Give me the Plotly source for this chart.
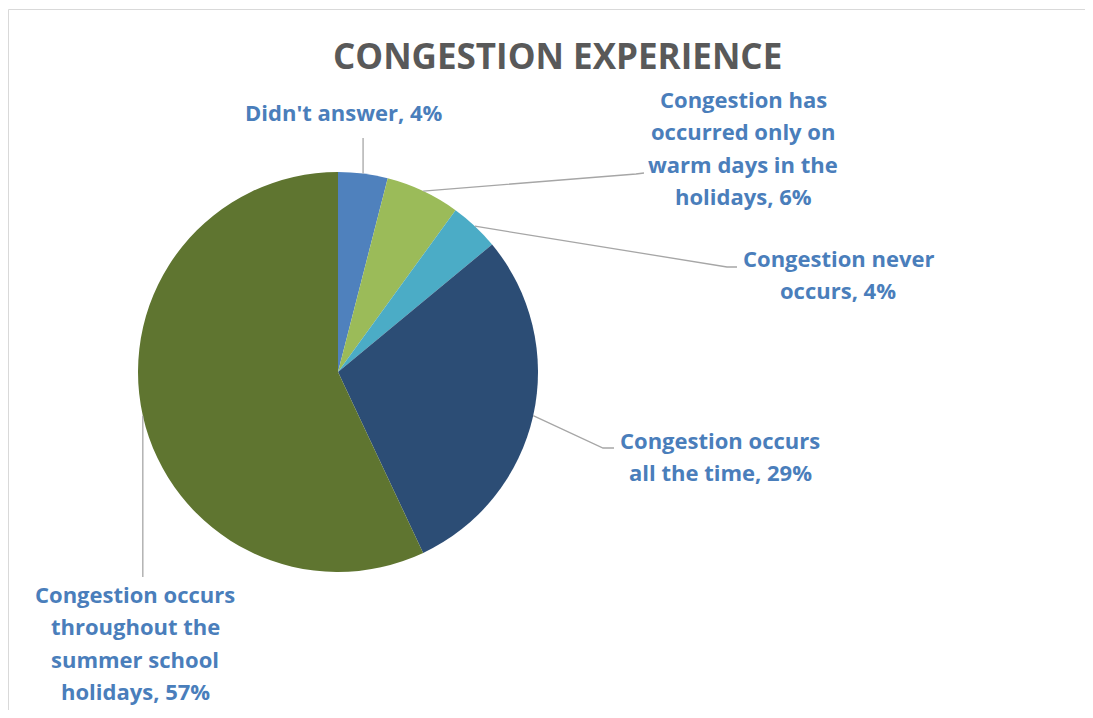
import math
import plotly.graph_objects as go

# ---- data ----
label_lines = [
    ["Didn't answer"],
    ["Congestion has", "occurred only on", "warm days in the", "holidays"],
    ["Congestion never", "occurs"],
    ["Congestion occurs", "all the time"],
    ["Congestion occurs", "throughout the", "summer school", "holidays"],
]
categories = [" ".join(l) for l in label_lines]
values = [4, 6, 4, 29, 57]
colors = ["#4F81BD", "#9BBB59", "#4BACC6", "#2C4D75", "#5F7530"]
title_text = "CONGESTION EXPERIENCE"

# ---- layout constants (window pixels) ----
OFF = 8                                # page body margin
W, H = 1093 - 2 * OFF, 718 - 2 * OFF   # figure size (fits without scrolling)
CX, CY, R = 338, 372, 200
label_pos = [(344, 112), (743, 99), (838, 258), (720, 440), (135, 594)]
leader_pts = [
    [(None, 138)],
    [(636, 174), (644, 173)],
    [(727, 267), (737, 267)],
    [(603, 448), (614, 448)],
    [(None, 577)],
]
LINE_GAP = 32.3
TEXT_COLOR = "#4A7EBB"
FONT = "Open Sans"


def px(x):
    return (x - OFF) / W


def py(y):
    return 1 - (y - OFF) / H


fig = go.Figure()
fig.add_trace(go.Pie(
    labels=categories,
    values=values,
    sort=False,
    direction="clockwise",
    rotation=0,
    marker=dict(colors=colors, line=dict(width=0)),
    textinfo="none",
    hoverinfo="label+percent",
    showlegend=False,
    domain=dict(x=[px(CX - R), px(CX + R)], y=[py(CY + R), py(CY - R)]),
))

shapes = []
annotations = []
total = sum(values)
cum = 0
for i, v in enumerate(values):
    mid = (cum + v / 2) / total * 2 * math.pi
    cum += v
    sx = CX + R * math.sin(mid)
    sy = CY - R * math.cos(mid)
    pts = [(sx, sy)] + [((sx if x is None else x), y) for x, y in leader_pts[i]]
    path = "M " + " L ".join(f"{px(x):.5f},{py(y):.5f}" for x, y in pts)
    shapes.append(dict(type="path", xref="paper", yref="paper", path=path,
                       line=dict(color="#A6A6A6", width=1.3)))
    lines = list(label_lines[i])
    lines[-1] = lines[-1] + f", {v}%"
    lx, ly = label_pos[i]
    for j, t in enumerate(lines):
        annotations.append(dict(
            text=t, xref="paper", yref="paper", x=px(lx), y=py(ly + j * LINE_GAP),
            xanchor="center", yanchor="middle", showarrow=False,
            font=dict(family=FONT, size=22, color=TEXT_COLOR, weight="bold"),
        ))

# chart border
shapes.append(dict(type="rect", xref="paper", yref="paper",
                   x0=px(8.5), x1=px(1093 + 20), y0=py(718 + 20), y1=py(9.5),
                   line=dict(color="#D9D9D9", width=1), fillcolor="rgba(0,0,0,0)"))

annotations.append(dict(
    text=title_text, xref="paper", yref="paper", x=px(557), y=py(56),
    xanchor="center", yanchor="middle", showarrow=False,
    font=dict(family=FONT, size=35, color="#595959", weight="bold"),
))

fig.update_layout(
    width=W, height=H,
    margin=dict(l=0, r=0, t=0, b=0),
    paper_bgcolor="white",
    plot_bgcolor="white",
    shapes=shapes,
    annotations=annotations,
)

fig.write_html("out.html", config={"displayModeBar": False})
